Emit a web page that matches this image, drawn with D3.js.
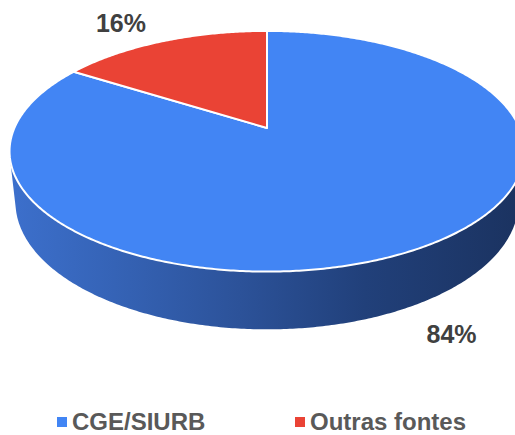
<!DOCTYPE html>
<html>
<head>
<meta charset="utf-8">
<script src="https://cdn.jsdelivr.net/npm/d3@7"></script>
<style>
  html, body { margin: 0; padding: 0; background: #ffffff; }
  svg { display: block; }
</style>
</head>
<body>
<svg id="chart" width="515" height="435"></svg>
<script>
// Data
const categories = ["CGE/SIURB", "Outras fontes"];
const values = [84, 16];
const valueLabels = ["84%", "16%"];
const colors = ["#4285F4", "#EA4335"];

const svg = d3.select("#chart");

// 3D pie projection: unit disk of thickness `thick`, viewed from above with perspective
const view = {
  cx: 267, cy: 128,        // screen position of the disk centre (top face)
  focal: 1162,             // focal length in px
  dist: 4.6,               // camera distance (in disk radii)
  tilt: 27.3 * Math.PI / 180,
  thick: 0.228
};
const sinT = Math.sin(view.tilt), cosT = Math.cos(view.tilt);

// angle a (0 = far side, clockwise), radius r, height y (0 top, -thick bottom)
function project(a, r, y) {
  const x = r * Math.sin(a);
  const z = -r * Math.cos(a);
  const depth = view.dist - z * cosT - y * sinT;
  return [
    view.cx + view.focal * x / depth,
    view.cy + view.focal * (z * sinT - y * cosT) / depth
  ];
}

const pie = d3.pie().sort(null).startAngle(0).endAngle(2 * Math.PI);
const arcs = pie(values);

const color = d3.scaleOrdinal().domain(categories).range(colors);

function arcPoints(a0, a1, y) {
  const n = Math.max(2, Math.ceil((a1 - a0) / 0.01));
  return d3.range(n + 1).map(i => project(a0 + (a1 - a0) * i / n, 1, y));
}

// Side wall gradient (lit from the left)
const defs = svg.append("defs");
const grad = defs.append("linearGradient")
  .attr("id", "wallShade")
  .attr("gradientUnits", "userSpaceOnUse")
  .attr("x1", 15).attr("x2", 515).attr("y1", 0).attr("y2", 0);
[
  [0, "#3c6fcb"],
  [0.2, "#3563b6"],
  [0.45, "#2c5299"],
  [0.7, "#21407a"],
  [1, "#1b3361"]
].forEach(([o, c]) => grad.append("stop").attr("offset", o).attr("stop-color", c));

// Visible part of the outer wall
const visLimit = Math.acos(-1 / (view.dist * cosT));
const visFrom = visLimit, visTo = 2 * Math.PI - visLimit;

const line = d3.line();
const wallG = svg.append("g");
arcs.forEach((d, i) => {
  const a0 = Math.max(d.startAngle, visFrom);
  const a1 = Math.min(d.endAngle, visTo);
  if (a1 <= a0) return;
  const top = arcPoints(a0, a1, 0);
  const bottom = arcPoints(a0, a1, -view.thick).reverse();
  const fill = i === 0 ? "url(#wallShade)" : d3.color(color(categories[i])).darker(0.8);
  wallG.append("path")
    .attr("d", line(top.concat(bottom)) + "Z")
    .attr("fill", fill);
});

// Top faces
const topG = svg.append("g");
arcs.forEach((d, i) => {
  const pts = [project(0, 0, 0)].concat(arcPoints(d.startAngle, d.endAngle, 0));
  topG.append("path")
    .attr("d", line(pts) + "Z")
    .attr("fill", color(categories[i]))
    .attr("stroke", "#ffffff")
    .attr("stroke-width", 2)
    .attr("stroke-linejoin", "round");
});

// Value labels, placed just outside the rim at each slice's mid angle
const labelG = svg.append("g");
arcs.forEach((d, i) => {
  const mid = (d.startAngle + d.endAngle) / 2;
  const front = Math.cos(mid) < 0;
  const [px, py] = project(mid, 1, front ? -view.thick : 0);
  const sx = Math.sin(mid) >= 0 ? 1 : -1;
  labelG.append("text")
    .attr("x", px + sx * 42)
    .attr("y", py + (front ? 27 : -18))
    .attr("text-anchor", "middle")
    .attr("dominant-baseline", "central")
    .attr("font-family", "'Liberation Sans', Arial, sans-serif")
    .attr("font-weight", "bold")
    .attr("font-size", 25)
    .attr("fill", "#404040")
    .text(valueLabels[i]);
});

// Legend
const legendX = d3.scalePoint().domain(categories).range([57, 295]);
const legend = svg.append("g");
categories.forEach(c => {
  const g = legend.append("g").attr("transform", `translate(${legendX(c)},417)`);
  g.append("rect").attr("width", 10).attr("height", 10).attr("fill", color(c));
  g.append("text")
    .attr("x", 15).attr("y", 13)
    .attr("font-family", "'Liberation Sans', Arial, sans-serif")
    .attr("font-weight", "bold")
    .attr("font-size", 24)
    .attr("fill", "#595959")
    .text(c);
});
</script>
</body>
</html>
